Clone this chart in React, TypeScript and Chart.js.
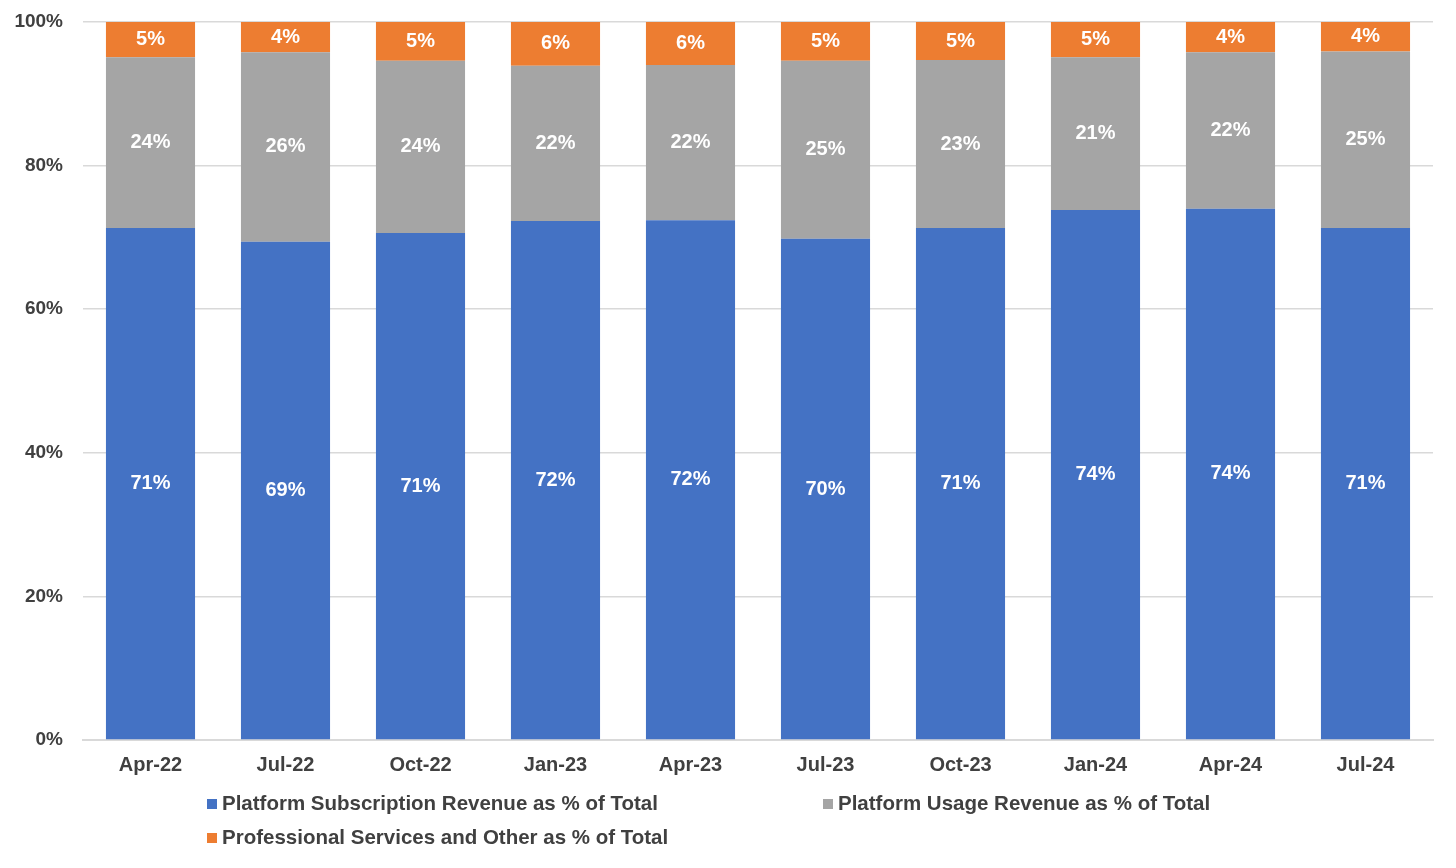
import React, { useEffect, useRef } from "react";
import { Chart, registerables } from "chart.js";

Chart.register(...registerables);

const categories = ["Apr-22", "Jul-22", "Oct-22", "Jan-23", "Apr-23", "Jul-23", "Oct-23", "Jan-24", "Apr-24", "Jul-24"];
const subscriptionPct = [71.3, 69.4, 70.6, 72.3, 72.4, 69.8, 71.3, 73.8, 74.0, 71.3];
const usagePct = [23.8, 26.4, 24.0, 21.6, 21.6, 24.8, 23.4, 21.3, 21.8, 24.6];
const servicesPct = [4.9, 4.2, 5.4, 6.1, 6.0, 5.4, 5.3, 4.9, 4.2, 4.1];
const yTicks = [0, 20, 40, 60, 80, 100];
const seriesNames = [
  "Platform Subscription Revenue as % of Total",
  "Platform Usage Revenue as % of Total",
  "Professional Services and Other as % of Total",
];

const FONT = "'Liberation Sans', Arial, sans-serif";
const TEXT = "#404040";

const labelsPlugin = {
  id: "segLabels",
  afterDatasetsDraw(chart: any) {
    const ctx = chart.ctx;
    ctx.save();
    ctx.font = `bold 20px ${FONT}`;
    ctx.fillStyle = "#ffffff";
    ctx.textAlign = "center";
    ctx.textBaseline = "middle";
    chart.data.datasets.forEach((ds: any, di: number) => {
      const meta = chart.getDatasetMeta(di);
      meta.data.forEach((bar: any, i: number) => {
        const v = ds.data[i];
        const cy = (bar.y + bar.base) / 2;
        ctx.fillText(`${Math.round(v)}%`, bar.x, cy);
      });
    });
    ctx.restore();
  },
};

const legendPlugin = {
  id: "customLegend",
  afterDraw(chart: any) {
    const ctx = chart.ctx;
    const ca = chart.chartArea;
    const positions = [
      { x: ca.left + 124, y: ca.bottom + 64 },
      { x: ca.left + 740, y: ca.bottom + 64 },
      { x: ca.left + 124, y: ca.bottom + 98 },
    ];
    ctx.save();
    ctx.font = `bold 20.5px ${FONT}`;
    ctx.textBaseline = "middle";
    ctx.textAlign = "left";
    chart.data.datasets.forEach((ds: any, i: number) => {
      const p = positions[i];
      ctx.fillStyle = ds.backgroundColor;
      ctx.fillRect(p.x, p.y - 5, 10, 10);
      ctx.fillStyle = TEXT;
      ctx.fillText(ds.label, p.x + 15, p.y);
    });
    ctx.restore();
  },
};

export default function App() {
  const ref = useRef<HTMLCanvasElement>(null);
  useEffect(() => {
    document.body.style.margin = "0";
    const chart = new Chart(ref.current!, {
      type: "bar",
      data: {
        labels: categories,
        datasets: [
          { label: seriesNames[0], data: subscriptionPct, backgroundColor: "#4472C4" },
          { label: seriesNames[1], data: usagePct, backgroundColor: "#A5A5A5" },
          { label: seriesNames[2], data: servicesPct, backgroundColor: "#ED7D31" },
        ],
      },
      options: {
        animation: false,
        responsive: false,
        datasets: { bar: { categoryPercentage: 0.66, barPercentage: 1 } },
        layout: { padding: { top: 22, right: 23, bottom: 88, left: 0 } },
        plugins: { legend: { display: false }, tooltip: { enabled: false } },
        scales: {
          x: {
            stacked: true,
            grid: { display: false },
            border: { display: true, color: "#d9d9d9", width: 2 },
            ticks: { color: TEXT, font: { family: FONT, size: 20, weight: "bold" }, padding: 5 },
            afterFit: (s: any) => {
              s.height = 40;
              s.paddingLeft = 0;
              s.paddingRight = 0;
            },
          },
          y: {
            stacked: true,
            min: 0,
            max: 100,
            afterBuildTicks: (s: any) => { s.ticks = yTicks.map((v) => ({ value: v })); },
            grid: { color: "#d9d9d9", lineWidth: 1.5, drawTicks: false },
            border: { display: false },
            ticks: {
              color: TEXT,
              font: { family: FONT, size: 19, weight: "bold" },
              padding: 20,
              callback: (v: any) => `${v}%`,
            },
            afterFit: (s: any) => {
              s.width = 83;
              s.paddingTop = 0;
              s.paddingBottom = 0;
            },
          },
        },
      },
      plugins: [labelsPlugin, legendPlugin],
    });
    return () => chart.destroy();
  }, []);
  return <canvas ref={ref} width={1456} height={868} style={{ display: "block" }} />;
}
